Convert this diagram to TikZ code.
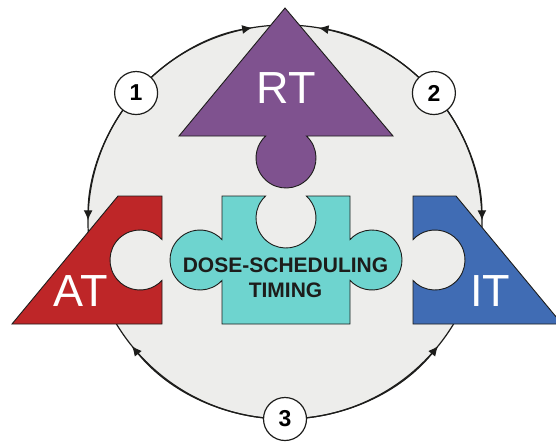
\documentclass[tikz,border=0pt]{standalone}
\usepackage{fontspec}
\setmainfont{Liberation Sans}
\usetikzlibrary{arrows.meta,calc}

\definecolor{rtpurple}{RGB}{127,82,143}
\definecolor{atred}{RGB}{190,38,40}
\definecolor{itblue}{RGB}{64,108,180}
\definecolor{doseteal}{RGB}{110,212,207}
\definecolor{ringgray}{RGB}{237,237,235}
\definecolor{inkdark}{RGB}{29,29,27}

\begin{document}
\begin{tikzpicture}[
    x=1pt,y=1pt,
    piece/.style={draw=inkdark,line width=0.9pt,line join=miter},
    ring/.style={draw=inkdark,line width=1.2pt},
    ringarrow/.style={ring,-{Latex[length=10pt,width=9pt]}},
    numbox/.style={
        circle,draw=inkdark,line width=1.2pt,fill=white,
        minimum size=43pt,inner sep=0pt,
        font=\bfseries\fontsize{23}{23}\selectfont
    },
    biglabel/.style={text=white,inner sep=0pt,font=\fontsize{45}{45}\selectfont}
]
\useasboundingbox (0,0) rectangle (556,-444);
\coordinate (c) at (285,-222);
\fill[ringgray] (c) circle[radius=197];
\draw[ring] (c) circle[radius=197];

% arrows on the ring
\coordinate (p1) at ($(c)+(139.1:197)$);
\coordinate (p2) at ($(c)+(40.9:197)$);
\coordinate (p3) at ($(c)+(270:197)$);
\draw[ringarrow] (p1) arc[start angle=139.1,end angle=99.6,radius=197];
\draw[ringarrow] (p1) arc[start angle=139.1,end angle=179.5,radius=197];
\draw[ringarrow] (p2) arc[start angle=40.9,end angle=80.2,radius=197];
\draw[ringarrow] (p2) arc[start angle=40.9,end angle=0.5,radius=197];
\draw[ringarrow] (p3) arc[start angle=270,end angle=219,radius=197];
\draw[ringarrow] (p3) arc[start angle=270,end angle=321,radius=197];

% the four pieces
\draw[piece,fill=rtpurple] (285,-8) -- (393,-136) -- (306.4,-136)
    arc[start angle=47.2,end angle=-227.2,radius=30] -- (179,-136) -- cycle;
\draw[piece,fill=atred] (118,-196) -- (162,-196) -- (162,-239.6)
    arc[start angle=42.8,end angle=317.2,radius=30] -- (162,-324) -- (12,-324) -- cycle;
\draw[piece,fill=itblue] (413,-196) -- (456,-196) -- (562,-324) -- (413,-324) -- (413,-280.4)
    arc[start angle=222.8,end angle=497.2,radius=30] -- cycle;
\draw[piece,fill=doseteal] (222,-196) -- (265.6,-196)
    arc[start angle=132.8,end angle=407.2,radius=30] -- (350,-196) -- (350,-239.6)
    arc[start angle=137.2,end angle=-137.2,radius=30] -- (350,-324) -- (222,-324) -- (222,-280.4)
    arc[start angle=-42.8,end angle=-317.2,radius=30] -- cycle;

\node[biglabel] (rt) at (286,-88) {RT};
\node[biglabel] (at) at (81,-291) {AT};
\node[biglabel] (it) at (490,-291) {IT};
\node[align=center,text=inkdark,inner sep=0pt,
      font=\bfseries\fontsize{21}{25}\selectfont] (dose) at (285.5,-277.5)
  {DOSE-SCHEDULING\\TIMING};

\node[numbox] (n1) at (p1) {1};
\node[numbox] (n2) at (p2) {2};
\node[numbox] (n3) at (p3) {3};
\end{tikzpicture}
\end{document}
